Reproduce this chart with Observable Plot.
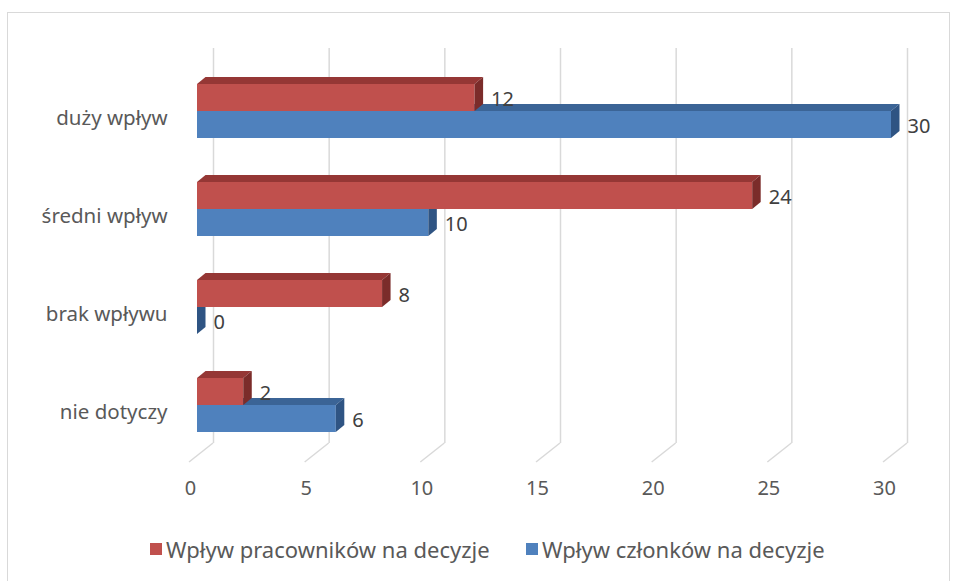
<!DOCTYPE html>
<html>
<head>
<meta charset="utf-8">
<script src="https://cdn.jsdelivr.net/npm/d3@7"></script>
<script src="https://cdn.jsdelivr.net/npm/@observablehq/plot@0.6"></script>
<style>
  html, body { margin: 0; padding: 0; background: #fff; overflow: hidden; }
  #wrap { position: relative; width: 955px; height: 581px; font-family: "Noto Sans", sans-serif; }
  #frame { position: absolute; left: 7px; top: 12px; width: 943px; height: 600px; border: 1.5px solid #D9D9D9; box-sizing: border-box; }
  #chart { position: absolute; left: 0; top: 0; }
  #legend { position: absolute; top: 534px; left: 0; width: 955px; height: 30px; font-size: 22px; color: #595959; }
  .item { position: absolute; top: 0; display: flex; align-items: center; height: 30px; white-space: nowrap; }
  .sw { width: 12px; height: 12px; margin-right: 4px; }
</style>
</head>
<body>
<div id="wrap">
  <div id="frame"></div>
  <div id="chart"></div>
  <div id="legend"></div>
</div>
<script>
const categories = ["duży wpływ", "średni wpływ", "brak wpływu", "nie dotyczy"];
const seriesNames = ["Wpływ pracowników na decyzje", "Wpływ członków na decyzje"];
const pracownicy = [12, 24, 8, 2];
const czlonkowie = [30, 10, 0, 6];
const xTicks = [0, 5, 10, 15, 20, 25, 30];

const colors = [
  {front: "#C0504D", top: "#953735", side: "#7B2C2A"},
  {front: "#4F81BD", top: "#3B6496", side: "#2F5483"}
];

const rows = [];
categories.forEach((c, i) => {
  rows.push({category: c, s: 1, series: seriesNames[1], value: czlonkowie[i]});
  rows.push({category: c, s: 0, series: seriesNames[0], value: pracownicy[i]});
});
const redRows = rows.filter(d => d.s === 0);
const blueRows = rows.filter(d => d.s === 1);

const DX = 8.5, DY = 7;       // bar depth
const WX = 16, WY = 13;       // back wall offset from bar front plane

function bars3d(index, scales, values, dimensions, context) {
  const data = this.data;
  const g = d3.create("svg:g");
  const bw = scales.y.bandwidth();
  const h = bw / 2;
  for (const i of index) {
    const d = data[i];
    const x0 = scales.x(0), x1 = scales.x(d.value);
    const y0 = scales.y(d.category) + (d.s === 0 ? 0 : h);
    const col = colors[d.s];
    if (x1 > x0) {
      g.append("polygon")
        .attr("points", [[x0, y0], [x1, y0], [x1 + DX, y0 - DY], [x0 + DX, y0 - DY]].join(" "))
        .attr("fill", col.top);
      g.append("rect").attr("x", x0).attr("y", y0).attr("width", x1 - x0).attr("height", h)
        .attr("fill", col.front);
    }
    g.append("polygon")
      .attr("points", [[x1, y0], [x1 + DX, y0 - DY], [x1 + DX, y0 + h - DY], [x1, y0 + h]].join(" "))
      .attr("fill", col.side);
  }
  return g.node();
}

function floorLines(index, scales, values, dimensions) {
  const g = d3.create("svg:g");
  const yb = dimensions.height - dimensions.marginBottom - 33;
  for (const i of index) {
    const x = scales.x(xTicks[i]);
    g.append("line")
      .attr("x1", x + WX).attr("y1", yb)
      .attr("x2", x + WX - 24).attr("y2", yb + 19)
      .attr("stroke", "#D9D9D9").attr("stroke-width", 1.5);
  }
  return g.node();
}

const chart = Plot.plot({
  width: 955,
  height: 520,
  marginLeft: 197,
  marginRight: 64,
  marginTop: 39,
  marginBottom: 44,
  x: {domain: [0, 30], axis: null},
  y: {domain: categories, padding: 0.449, axis: null},
  style: {fontFamily: "'Noto Sans', sans-serif", background: "transparent"},
  marks: [
    Plot.ruleX(xTicks, {x: d => d, dx: WX, insetTop: 9, insetBottom: 33, stroke: "#D9D9D9", strokeWidth: 1.5}),
    Plot.ruleX(xTicks, {x: d => d, render: floorLines}),
    Plot.barX(blueRows, {x: "value", y: "category", fill: "series", render: bars3d}),
    Plot.barX(redRows, {x: "value", y: "category", fill: "series", render: bars3d}),
    Plot.text(redRows, {x: "value", y: "category", text: d => String(d.value), dx: 16, dy: -11.5,
      textAnchor: "start", fontSize: 20, fill: "#404040"}),
    Plot.text(blueRows, {x: "value", y: "category", text: d => String(d.value), dx: 16, dy: 15.5,
      textAnchor: "start", fontSize: 20, fill: "#404040"}),
    Plot.text(categories, {y: d => d, frameAnchor: "left", dx: -30, dy: 7, textAnchor: "end",
      fontSize: 20.5, fill: "#595959"}),
    Plot.text(xTicks, {x: d => d, frameAnchor: "bottom", dx: -7, dy: 18, fontSize: 20, fill: "#595959"})
  ]
});
document.getElementById("chart").appendChild(chart);

const legend = document.getElementById("legend");
const legendPos = [150, 526];
seriesNames.forEach((name, i) => {
  const item = document.createElement("div");
  item.className = "item";
  item.style.left = legendPos[i] + "px";
  const sw = document.createElement("div");
  sw.className = "sw";
  sw.style.background = colors[i].front;
  const t = document.createElement("span");
  t.textContent = name;
  item.appendChild(sw);
  item.appendChild(t);
  legend.appendChild(item);
});
</script>
</body>
</html>
